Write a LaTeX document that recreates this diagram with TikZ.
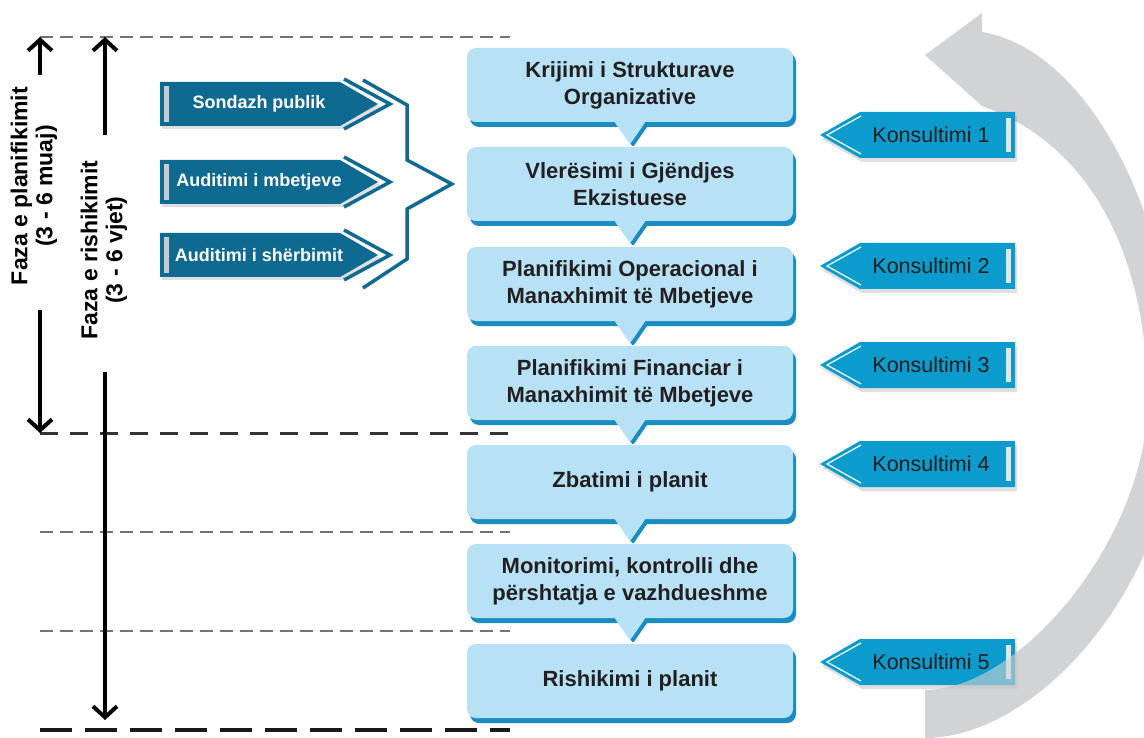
\documentclass[tikz,border=0pt]{standalone}
\usepackage{fontspec}
\setmainfont{Liberation Sans}
\usetikzlibrary{positioning, arrows.meta, shadows}
\definecolor{stagefill}{HTML}{B7E2F6}
\definecolor{stageedge}{HTML}{1A8CC1}
\definecolor{feedblue}{HTML}{0F6A92}
\definecolor{consblue}{HTML}{0B9BCC}
\definecolor{inktext}{HTML}{231F20}
\definecolor{bandgray}{RGB}{210,211,213}
\tikzset{
    x=1pt, y=-1pt,
    stage/.style={
        rectangle,
        rounded corners=9pt,
        fill=stagefill,
        minimum width=326pt,
        minimum height=74pt,
        align=center,
        text=inktext,
        font=\fontsize{22}{27}\selectfont\bfseries,
        drop shadow={shadow xshift=3pt, shadow yshift=-5pt, fill=stageedge, opacity=1}
    },
    feedtxt/.style={text=white, font=\fontsize{18}{20}\selectfont\bfseries, inner sep=0pt},
    constxt/.style={text=inktext, font=\fontsize{21.5}{24}\selectfont, inner sep=0pt},
    phase/.style={rotate=90, align=center, text=black, font=\fontsize{23}{25}\selectfont\bfseries, inner sep=0pt},
    phasearrow/.style={line width=4pt, -{Straight Barb[length=11pt, width=24pt]}},
    guide/.style={draw=black!55, line width=1.8pt, dash pattern=on 13pt off 7pt},
    guide strong/.style={draw=black!80, line width=3pt, dash pattern=on 18pt off 12pt},
    guide bold/.style={draw=black!90, line width=4pt, dash pattern=on 32pt off 13pt},
    band/.style={fill=bandgray}
}
\def\bandpath{(982,106) .. controls (1073,138) and (1146,230) .. (1148,400)
    .. controls (1146,540) and (1020,690) .. (925,690)
    -- (925,738)
    .. controls (1040,738) and (1178,580) .. (1178,400)
    .. controls (1175,220) and (1090,50) .. (982,32)
    -- (982,13) -- (925,55) -- cycle}

\begin{document}
\begin{tikzpicture}
\useasboundingbox (0,0) rectangle (1144,738);

% phase guides
\draw[guide] (40,37) -- (510,37);
\draw[guide strong] (40,433) -- (510,433);
\draw[guide] (40,532) -- (510,532);
\draw[guide] (40,631) -- (510,631);
\draw[guide bold] (40,730) -- (510,730);

\node[phase] (plan) at (34,186) {Faza e planifikimit\\(3 - 6 muaj)};
\node[phase] (rish) at (104,250) {Faza e rishikimit\\(3 - 6 vjet)};
\coordinate (planA) at (40,75);
\coordinate (planB) at (40,310);
\coordinate (rishA) at (105,135);
\coordinate (rishB) at (105,372);
\draw[phasearrow] (planA) -- (40,37);
\draw[phasearrow] (planB) -- (40,433);
\draw[phasearrow] (rishA) -- (105,37);
\draw[phasearrow] (rishB) -- (105,720);

% stages
\node[stage] (s1) at (630,85) {Krijimi i Strukturave\\Organizative};
\node[stage] (s2) at (630,184) {Vlerësimi i Gjëndjes\\Ekzistuese};
\node[stage] (s3) at (630,284) {Planifikimi Operacional i\\Manaxhimit të Mbetjeve};
\node[stage] (s4) at (630,383) {Planifikimi Financiar i\\Manaxhimit të Mbetjeve};
\node[stage] (s5) at (630,482) {Zbatimi i planit};
\node[stage] (s6) at (630,581) {Monitorimi, kontrolli dhe\\përshtatja e vazhdueshme};
\node[stage] (s7) at (630,681) {Rishikimi i planit};
\foreach \i in {1,...,6}{
    \fill[stageedge, rounded corners=2pt] ([xshift=-13pt,yshift=-2pt]s\i.south) -- ([xshift=3pt,yshift=-25pt]s\i.south) -- ([xshift=19pt,yshift=-2pt]s\i.south) -- cycle;
    \fill[stagefill, rounded corners=2pt] ([xshift=-16pt,yshift=1pt]s\i.south) -- ([yshift=-22pt]s\i.south) -- ([xshift=16pt,yshift=1pt]s\i.south) -- cycle;
}

% inputs
\foreach \nm/\yy/\txt in {sond/104/Sondazh publik, aumb/182/Auditimi i mbetjeve, ausb/255/Auditimi i shërbimit}{
    \fill[feedblue, drop shadow={shadow xshift=2pt, shadow yshift=-3pt, opacity=.25}] (160,\yy-22) -- (340,\yy-22) -- (378,\yy) -- (340,\yy+22) -- (160,\yy+22) -- cycle;
    \fill[black!20] (164,\yy-18) rectangle (169,\yy+18);
    \draw[feedblue, line width=3.5pt] (344,\yy-25) -- (390,\yy) -- (344,\yy+25);
    \node[feedtxt] (\nm) at (259,\yy) {\txt};
}
\draw[feedblue, line width=3.5pt] (363,80) -- (407,105) -- (407,160) -- ([xshift=-15pt]s2.west) -- (407,209) -- (407,259) -- (363,288);

% cycle arrow
\begin{scope}
\clip (0,0) rectangle (1144,738);
\fill[band] \bandpath;
\end{scope}

% consultations
\foreach \k/\yy in {1/135, 2/266, 3/365, 4/464, 5/662}{
    \fill[consblue, drop shadow={shadow xshift=2pt, shadow yshift=-4pt, opacity=.25}] (860,\yy-23) -- (1015,\yy-23) -- (1015,\yy+23) -- (860,\yy+23) -- (820,\yy) -- cycle;
    \draw[white, line width=1.2pt] (861,\yy-19) -- (827,\yy) -- (861,\yy+19);
    \fill[black!10] (1006,\yy-17) rectangle (1011,\yy+17);
    \node[constxt] (k\k) at (931,\yy) {Konsultimi \k};
}

% band passing over the last consultation
\begin{scope}
\clip (940,630) rectangle (1020,700);
\fill[bandgray, fill opacity=.6] \bandpath;
\end{scope}
\end{tikzpicture}
\end{document}
